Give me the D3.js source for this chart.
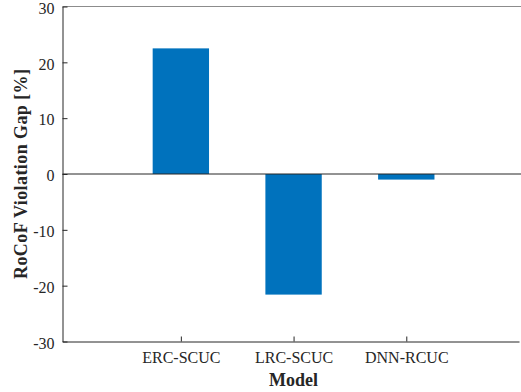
<!DOCTYPE html>
<html><head><meta charset="utf-8">
<script src="https://cdn.jsdelivr.net/npm/d3@7"></script>
<style>body{margin:0;background:#fff}svg{display:block}text{font-family:"Liberation Serif","Times New Roman",serif}</style>
</head><body>
<script>
const categories = ["ERC-SCUC", "LRC-SCUC", "DNN-RCUC"];
const values = [22.5, -21.6, -1.0];
const yTicks = [-30, -20, -10, 0, 10, 20, 30];
const xLim = [-0.05, 4.0];
const yLim = [-30, 30];
const yLabel = "RoCoF Violation Gap [%]";
const xLabel = "Model";

const W = 521, H = 392;
const svg = d3.select("body").append("svg").attr("width", W).attr("height", H);
const m = {l: 62.5, r: 2, t: 6.5, b: 50.5};
const x = d3.scaleLinear().domain(xLim).range([m.l, W - m.r]);
const y = d3.scaleLinear().domain(yLim).range([H - m.b, m.t]);
const axisColor = "#262626";
const barW = x(0.5) - x(0);

// bars
svg.selectAll("rect.bar").data(values).enter().append("rect")
  .attr("x", (d, i) => x(i + 1) - barW / 2)
  .attr("width", barW)
  .attr("y", d => y(Math.max(0, d)))
  .attr("height", d => Math.abs(y(d) - y(0)))
  .attr("fill", "#0072BD");

// baseline
svg.append("line").attr("x1", x(xLim[0])).attr("x2", W).attr("y1", y(0)).attr("y2", y(0))
  .attr("stroke", axisColor).attr("stroke-width", 1);

// top line
svg.append("line").attr("x1", x(xLim[0])).attr("x2", W).attr("y1", y(yLim[1])).attr("y2", y(yLim[1]))
  .attr("stroke", "#8c8c8c").attr("stroke-width", 1);

// y axis
const yAxis = d3.axisLeft(y).tickValues(yTicks).tickSizeInner(-5).tickSizeOuter(0).tickPadding(8).tickFormat(d => String(d));
const gy = svg.append("g").attr("transform", `translate(${x(xLim[0])},0)`).call(yAxis);
gy.select(".domain").attr("stroke", axisColor);
gy.selectAll(".tick line").attr("stroke", axisColor);
gy.selectAll("text").attr("fill", axisColor).attr("font-size", 16).attr("dy", "0.42em").attr("font-family", "Liberation Serif");

// x axis
const xAxis = d3.axisBottom(x).tickValues([1, 2, 3]).tickSizeInner(-5).tickSizeOuter(0).tickPadding(10)
  .tickFormat((d) => categories[d - 1]);
const gx = svg.append("g").attr("transform", `translate(0,${y(yLim[0])})`).call(xAxis);
gx.select(".domain").attr("stroke", axisColor);
gx.selectAll(".tick line").attr("stroke", axisColor);
gx.selectAll("text").attr("fill", axisColor).attr("font-size", 16).attr("font-family", "Liberation Serif");

// labels
svg.append("text").attr("x", (x(1) + x(3)) / 2).attr("y", 386)
  .attr("text-anchor", "middle").attr("font-weight", "bold").attr("font-size", 18).attr("fill", axisColor).text(xLabel);
svg.append("text").attr("transform", `translate(27,${y(0)}) rotate(-90)`)
  .attr("text-anchor", "middle").attr("font-weight", "bold").attr("font-size", 18)
  .attr("textLength", 210).attr("lengthAdjust", "spacing").attr("fill", axisColor).text(yLabel);
</script>
</body></html>
